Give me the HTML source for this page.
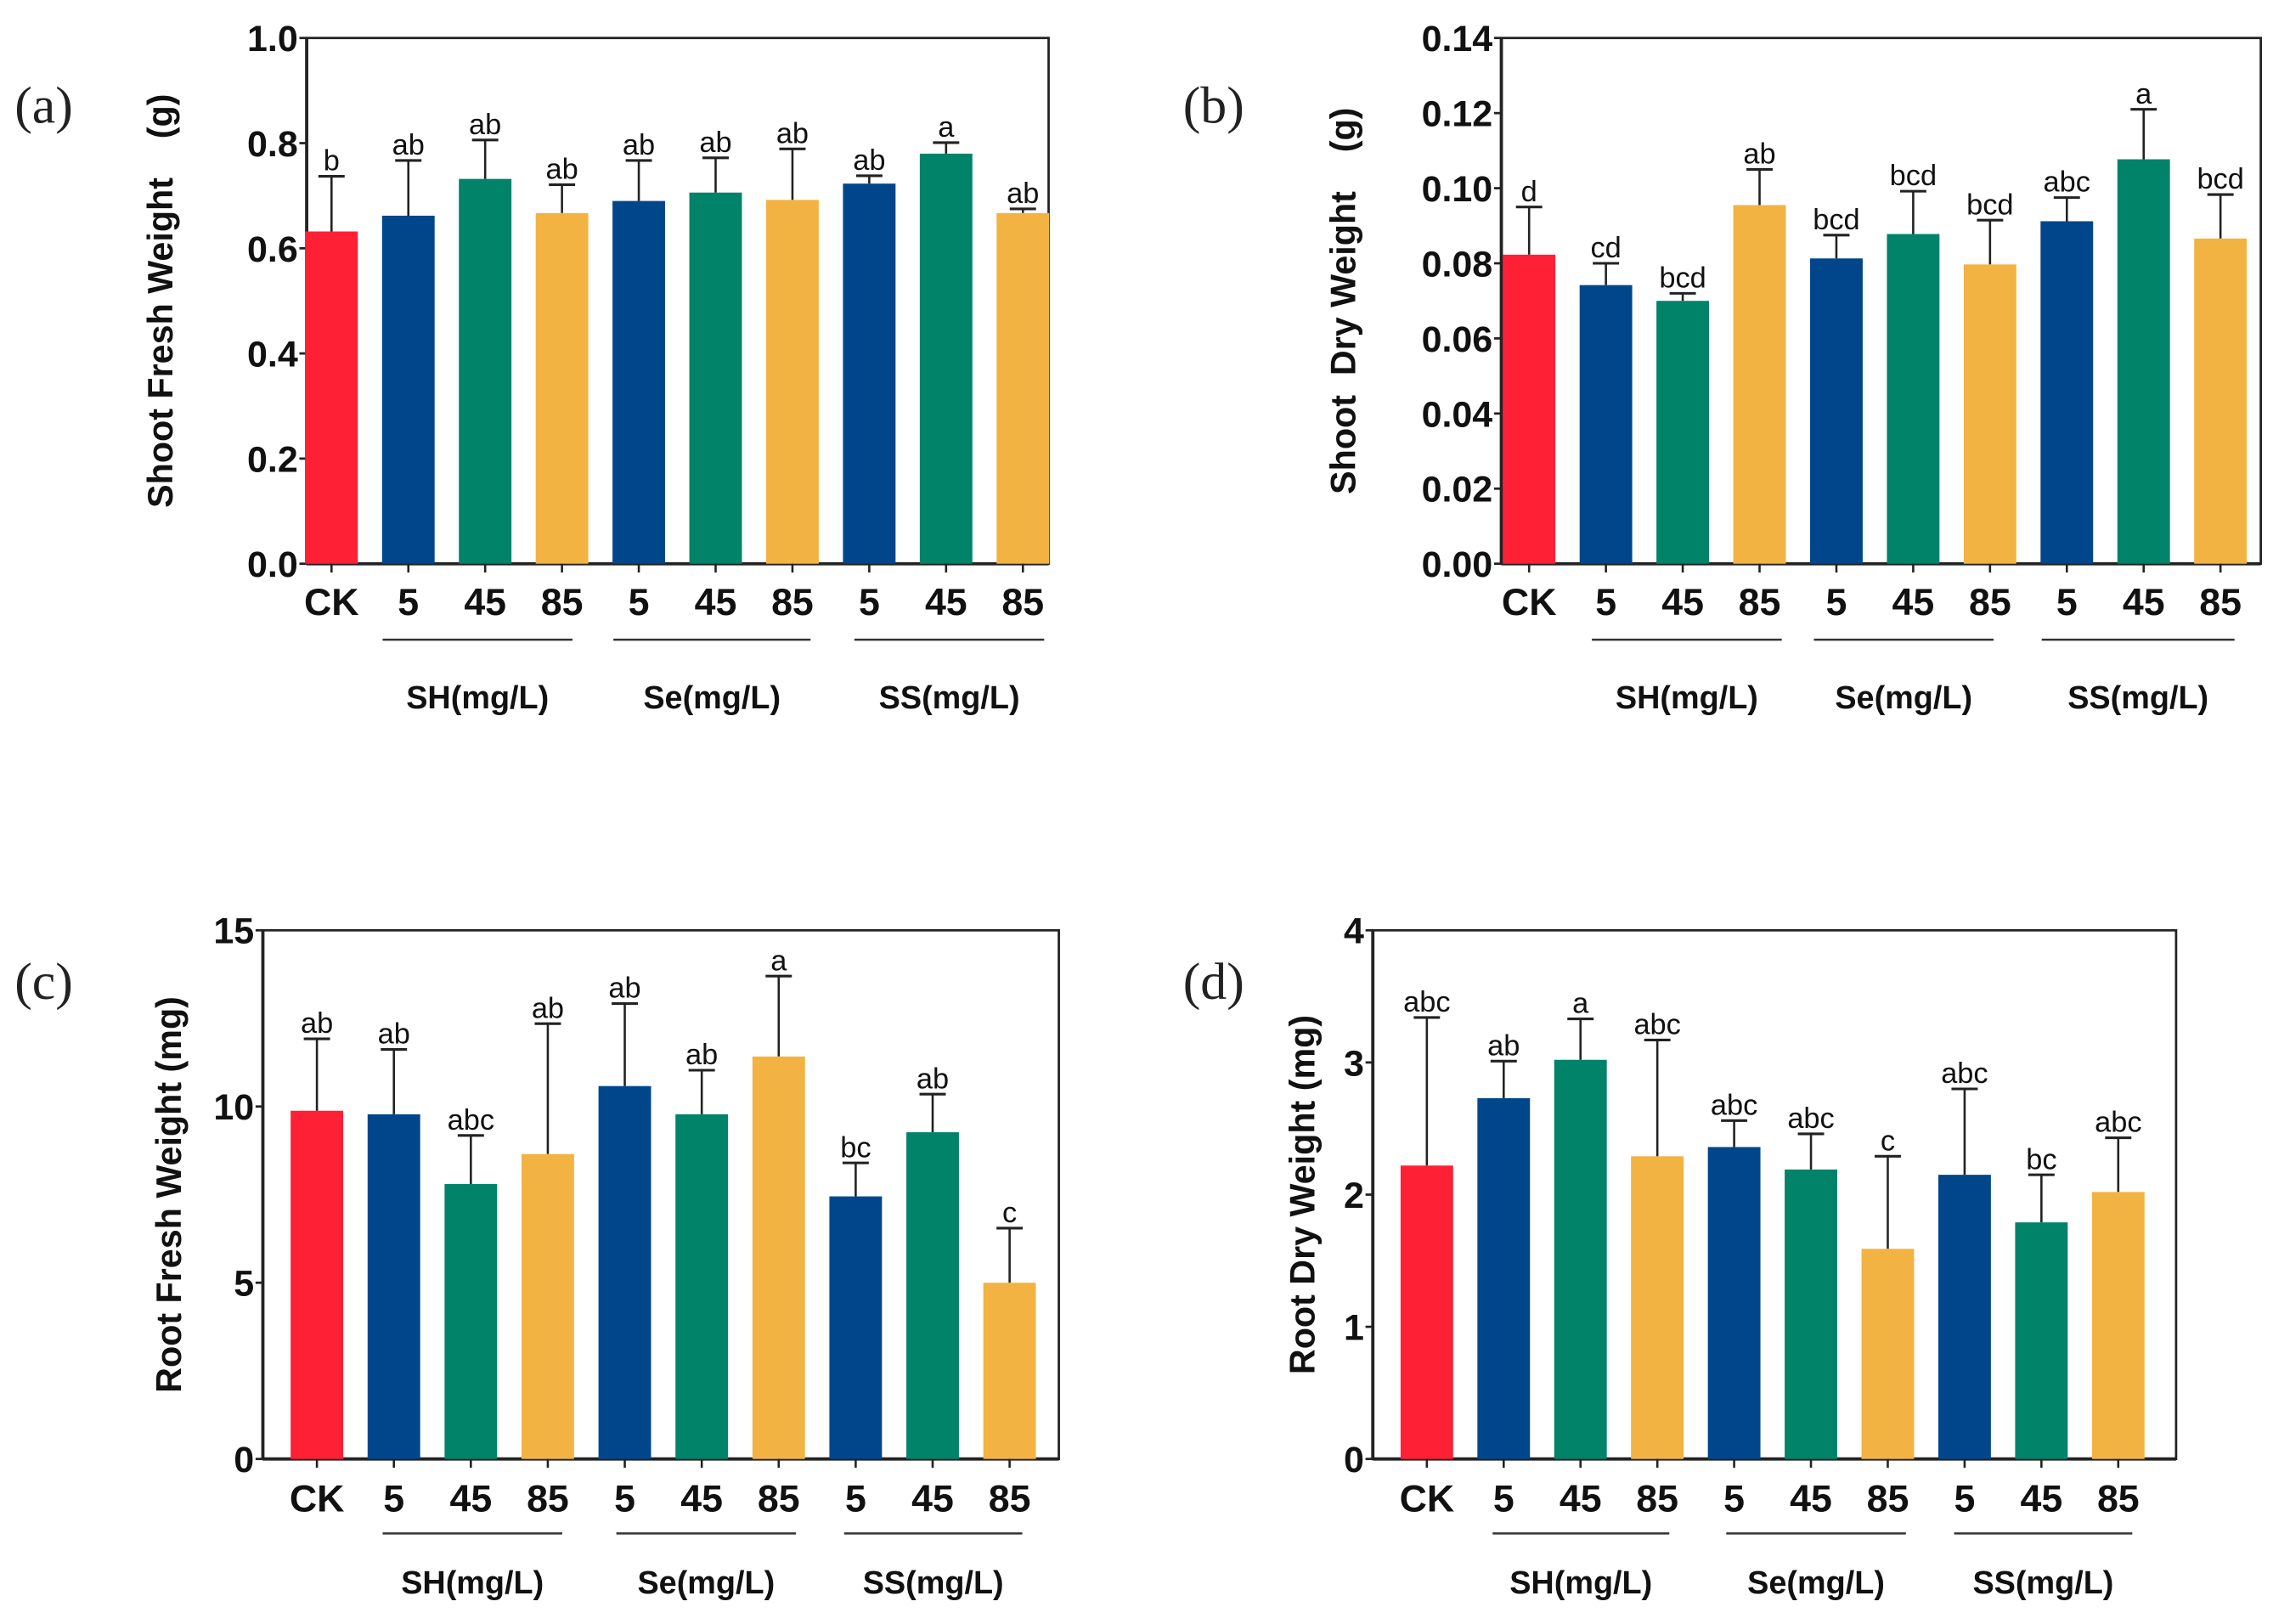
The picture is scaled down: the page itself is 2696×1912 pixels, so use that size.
<!DOCTYPE html>
<html><head><meta charset="utf-8"><style>
html,body{margin:0;padding:0;background:#fff;}
svg{display:block;}
.tick{font-family:"Liberation Sans Narrow","Liberation Sans",sans-serif;font-weight:bold;font-size:25px;fill:#111;}
.cat{font-family:"Liberation Sans Narrow","Liberation Sans",sans-serif;font-weight:bold;font-size:26px;fill:#111;}
.grp{font-family:"Liberation Sans Narrow","Liberation Sans",sans-serif;font-weight:bold;font-size:22px;fill:#111;}
.sig{font-family:"Liberation Sans Narrow","Liberation Sans",sans-serif;font-size:20px;fill:#111;}
.ylab{font-family:"Liberation Sans",sans-serif;font-weight:bold;font-size:24px;fill:#111;white-space:pre;}
.plab{font-family:"Liberation Serif",serif;font-size:36px;fill:#222;}
</style></head><body>
<svg id="fig" width="2696" height="1912" viewBox="0 0 1568 1112" xmlns="http://www.w3.org/2000/svg"></svg>
<script>
const categories = ["CK","5","45","85","5","45","85","5","45","85"];
const groupNames = ["SH(mg/L)","Se(mg/L)","SS(mg/L)"];
const barColors = ["#FE2035","#01468A","#008369","#F2B342","#01468A","#008369","#F2B342","#01468A","#008369","#F2B342"];

const aValues = [0.632,0.662,0.732,0.667,0.690,0.706,0.692,0.723,0.780,0.667];
const aErrTop = [0.737,0.767,0.806,0.721,0.767,0.772,0.789,0.738,0.801,0.675];
const aLetters = ["b","ab","ab","ab","ab","ab","ab","ab","a","ab"];
const aTicks = ["0.0","0.2","0.4","0.6","0.8","1.0"];

const bValues = [0.0823,0.0742,0.0700,0.0955,0.0813,0.0878,0.0797,0.0912,0.1077,0.0866];
const bErrTop = [0.0950,0.0800,0.0720,0.1050,0.0875,0.0992,0.0915,0.0975,0.1210,0.0983];
const bLetters = ["d","cd","bcd","ab","bcd","bcd","bcd","abc","a","bcd"];
const bTicks = ["0.00","0.02","0.04","0.06","0.08","0.10","0.12","0.14"];

const cValues = [9.88,9.78,7.80,8.65,10.58,9.78,11.42,7.45,9.27,5.00];
const cErrTop = [11.92,11.62,9.18,12.35,12.92,11.03,13.70,8.40,10.35,6.55];
const cLetters = ["ab","ab","abc","ab","ab","ab","a","bc","ab","c"];
const cTicks = ["0","5","10","15"];

const dValues = [2.22,2.73,3.02,2.29,2.36,2.19,1.59,2.15,1.79,2.02];
const dErrTop = [3.34,3.01,3.33,3.17,2.56,2.46,2.29,2.80,2.15,2.43];
const dLetters = ["abc","ab","a","abc","abc","abc","c","abc","bc","abc"];
const dTicks = ["0","1","2","3","4"];

const panels = [
 {id:"a",values:aValues,err:aErrTop,letters:aLetters,ticks:aTicks,max:1.0,x0:210,x1:718,y0:386,y1:26,c0:227,step:52.6,ylab:"Shoot Fresh Weight    (g)",ylx:118,lab:"(a)",labx:10,laby:84,gl:[[262,392],[420,555],[585,715]],cy:411,gly:438,gy:477},
 {id:"b",values:bValues,err:bErrTop,letters:bLetters,ticks:bTicks,max:0.14,x0:1028,x1:1548,y0:386,y1:26,c0:1047,step:52.6,ylab:"Shoot  Dry Weight    (g)",ylx:928,lab:"(b)",labx:810,laby:84,gl:[[1090,1220],[1242,1365],[1398,1530]],cy:411,gly:438,gy:477},
 {id:"c",values:cValues,err:cErrTop,letters:cLetters,ticks:cTicks,max:15,x0:180,x1:725,y0:999,y1:637,c0:217,step:52.7,ylab:"Root Fresh Weight (mg)",ylx:124,lab:"(c)",labx:10,laby:684,gl:[[262,385],[422,545],[578,700]],cy:1025,gly:1050,gy:1083},
 {id:"d",values:dValues,err:dErrTop,letters:dLetters,ticks:dTicks,max:4,x0:940,x1:1490,y0:999,y1:637,c0:977,step:52.6,ylab:"Root Dry Weight (mg)",ylx:900,lab:"(d)",labx:810,laby:684,gl:[[1022,1143],[1182,1305],[1338,1460]],cy:1025,gly:1050,gy:1083}
];

const NS="http://www.w3.org/2000/svg";
const svg=document.getElementById("fig");
function mk(tag,attrs,parent,text){const e=document.createElementNS(NS,tag);for(const k in attrs)e.setAttribute(k,attrs[k]);if(text!==undefined)e.textContent=text;parent.appendChild(e);return e;}

panels.forEach(p=>{
  const g=mk("g",{},svg);
  
  
  const yScale=v=>p.y0-(v/p.max)*(p.y0-p.y1);
  const xScale=i=>p.c0+i*p.step;
  const bw=36;
  const fr=mk("rect",{x:p.x0,y:p.y1,width:p.x1-p.x0,height:p.y0-p.y1,fill:"none",stroke:"#222","stroke-width":1.6},g);
  
  
  const ya=mk("line",{x1:p.x0,y1:p.y1,x2:p.x0,y2:p.y0,stroke:"#222","stroke-width":2.2},g);
  
  
  const xa=mk("line",{x1:p.x0,y1:p.y0,x2:p.x1,y2:p.y0,stroke:"#222","stroke-width":2.2},g);
  
  
  p.ticks.forEach((t,i)=>{
    const v=i*p.max/(p.ticks.length-1);
    const y=yScale(v);
    mk("line",{x1:p.x0-5,y1:y,x2:p.x0,y2:y,stroke:"#222","stroke-width":1.6},g);
    const tx=mk("text",{x:p.x0-6,y:y+9,"text-anchor":"end",class:"tick"},g,t);
    
    
  });
  p.values.forEach((v,i)=>{
    const cx=xScale(i);
    const yt=yScale(v), ye=yScale(p.err[i]);
    mk("line",{x1:cx,y1:yt,x2:cx,y2:ye,stroke:"#222","stroke-width":1.5},g);
    mk("line",{x1:cx-9,y1:ye,x2:cx+9,y2:ye,stroke:"#222","stroke-width":1.8},g);
    const r=mk("rect",{x:cx-bw/2,y:yt,width:bw,height:p.y0-yt,fill:barColors[i]},g);
    
    
    const s=mk("text",{x:cx,y:ye-4,"text-anchor":"middle",class:"sig"},g,p.letters[i]);
    
    
    mk("line",{x1:cx,y1:p.y0,x2:cx,y2:p.y0+6,stroke:"#222","stroke-width":1.5},g);
    const c=mk("text",{x:cx,y:p.cy+10,"text-anchor":"middle",class:"cat"},g,categories[i]);
    
    
  });
  p.gl.forEach((l,k)=>{
    const ln=mk("line",{x1:l[0],y1:p.gly,x2:l[1],y2:p.gly,stroke:"#333","stroke-width":1.4},g);
    
    
    const gt=mk("text",{x:(l[0]+l[1])/2,y:p.gy+8,"text-anchor":"middle",class:"grp"},g,groupNames[k]);
    
    
  });
  const ymid=(p.y0+p.y1)/2;
  const yl=mk("text",{x:p.ylx,y:ymid,"text-anchor":"middle",class:"ylab",transform:`rotate(-90 ${p.ylx} ${ymid})`},g,p.ylab);
  
  
  const pl=mk("text",{x:p.labx,y:p.laby,class:"plab"},g,p.lab);
  
  
});
</script>
</body></html>
